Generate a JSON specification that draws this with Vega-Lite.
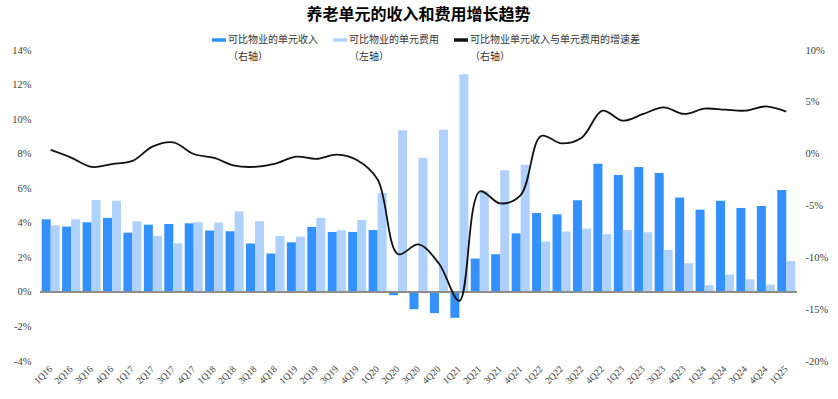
{
  "$schema": "https://vega.github.io/schema/vega-lite/v6.json",
  "width": 757,
  "height": 311,
  "autosize": {"type": "none"},
  "padding": {"left": 40, "top": 50, "right": 41, "bottom": 38},
  "background": "white",
  "config": {"view": {"stroke": null}, "font": "Noto Sans CJK SC", "style": {"guide-label": {"lineHeight": 17}}},
  "title": {
    "text": "养老单元的收入和费用增长趋势",
    "font": "Noto Sans CJK SC",
    "fontSize": 16,
    "fontWeight": "bold",
    "color": "#000000",
    "anchor": "middle",
    "frame": "group",
    "offset": 10
  },
  "data": {
    "values": [
      {"q": "1Q16", "income": 4.20, "expense": 3.85, "diff": 0.36},
      {"q": "2Q16", "income": 3.78, "expense": 4.20, "diff": -0.38},
      {"q": "3Q16", "income": 4.03, "expense": 5.32, "diff": -1.28},
      {"q": "4Q16", "income": 4.28, "expense": 5.28, "diff": -1.0},
      {"q": "1Q17", "income": 3.43, "expense": 4.09, "diff": -0.7},
      {"q": "2Q17", "income": 3.89, "expense": 3.24, "diff": 0.7},
      {"q": "3Q17", "income": 3.93, "expense": 2.81, "diff": 1.09},
      {"q": "4Q17", "income": 3.97, "expense": 4.03, "diff": -0.03},
      {"q": "1Q18", "income": 3.55, "expense": 4.01, "diff": -0.41},
      {"q": "2Q18", "income": 3.51, "expense": 4.66, "diff": -1.16},
      {"q": "3Q18", "income": 2.80, "expense": 4.09, "diff": -1.27},
      {"q": "4Q18", "income": 2.22, "expense": 3.24, "diff": -0.96},
      {"q": "1Q19", "income": 2.87, "expense": 3.20, "diff": -0.29},
      {"q": "2Q19", "income": 3.76, "expense": 4.28, "diff": -0.5},
      {"q": "3Q19", "income": 3.47, "expense": 3.57, "diff": -0.1},
      {"q": "4Q19", "income": 3.47, "expense": 4.16, "diff": -0.64},
      {"q": "1Q20", "income": 3.58, "expense": 5.73, "diff": -2.5},
      {"q": "2Q20", "income": -0.19, "expense": 9.36, "diff": -9.7},
      {"q": "3Q20", "income": -1.0, "expense": 7.77, "diff": -8.75},
      {"q": "4Q20", "income": -1.23, "expense": 9.39, "diff": -10.6},
      {"q": "1Q21", "income": -1.5, "expense": 12.6, "diff": -14.2},
      {"q": "2Q21", "income": 1.93, "expense": 5.82, "diff": -3.65},
      {"q": "3Q21", "income": 2.18, "expense": 7.04, "diff": -4.8},
      {"q": "4Q21", "income": 3.39, "expense": 7.36, "diff": -4.0},
      {"q": "1Q22", "income": 4.57, "expense": 2.91, "diff": 1.7},
      {"q": "2Q22", "income": 4.49, "expense": 3.49, "diff": 0.99},
      {"q": "3Q22", "income": 5.30, "expense": 3.66, "diff": 1.57},
      {"q": "4Q22", "income": 7.42, "expense": 3.34, "diff": 4.15},
      {"q": "1Q23", "income": 6.77, "expense": 3.58, "diff": 3.18},
      {"q": "2Q23", "income": 7.23, "expense": 3.45, "diff": 3.83},
      {"q": "3Q23", "income": 6.88, "expense": 2.43, "diff": 4.47},
      {"q": "4Q23", "income": 5.47, "expense": 1.66, "diff": 3.83},
      {"q": "1Q24", "income": 4.76, "expense": 0.39, "diff": 4.34},
      {"q": "2Q24", "income": 5.28, "expense": 1.0, "diff": 4.24},
      {"q": "3Q24", "income": 4.86, "expense": 0.73, "diff": 4.15},
      {"q": "4Q24", "income": 4.97, "expense": 0.42, "diff": 4.56},
      {"q": "1Q25", "income": 5.90, "expense": 1.79, "diff": 4.05}
    ]
  },
  "layer": [
    {
      "layer": [
        {
          "transform": [{"fold": ["income", "expense"], "as": ["series", "value"]}],
          "mark": {"type": "bar"},
          "encoding": {
            "x": {
              "field": "q",
              "type": "nominal",
              "sort": null,
              "scale": {"paddingInner": 0.118, "paddingOuter": 0.083},
              "axis": {
                "title": null,
                "domain": false,
                "ticks": false,
                "labelAngle": -45,
                "labelAlign": "right",
                "labelBaseline": "middle",
                "labelPadding": 6,
                "labelFont": "Liberation Serif",
                "labelFontSize": 9.5,
                "labelColor": "#404040"
              }
            },
            "xOffset": {
              "field": "series",
              "type": "nominal",
              "sort": ["income", "expense"],
              "scale": {"domain": ["income", "expense"], "paddingInner": 0, "paddingOuter": 0}
            },
            "y": {
              "field": "value",
              "type": "quantitative",
              "scale": {"domain": [-4, 14], "nice": false, "zero": false},
              "axis": {
                "title": null,
                "orient": "left",
                "values": [-4, -2, 0, 2, 4, 6, 8, 10, 12, 14],
                "labelExpr": "datum.value + '%'",
                "labelOverlap": false,
                "labelBound": false,
                "labelFlush": false,
                "grid": false,
                "domain": false,
                "ticks": false,
                "labelPadding": 9,
                "labelFont": "Liberation Serif",
                "labelFontSize": 10.5,
                "labelColor": "#404040"
              }
            },
            "color": {
              "field": "series",
              "type": "nominal",
              "scale": {"domain": ["income", "expense", "diff"], "range": ["#3391FF", "#AED1FF", "#111111"]},
              "legend": {
                "title": null,
                "orient": "none",
                "legendX": 172,
                "legendY": -17,
                "direction": "horizontal",
                "columns": 3,
                "gridAlign": "none",
                "columnPadding": 15,
                "padding": 0,
                "symbolSize": 196,
                "symbolType": "M-1,-0.25H1V0.25H-1Z",
                "symbolStrokeWidth": 0,
                "symbolOpacity": 1,
                "labelFont": "Noto Sans CJK SC",
                "labelFontSize": 10,
                "labelColor": "#333333",
                "labelLimit": 400,
                "labelOffset": 2,
                "labelExpr": "datum.value === 'income' ? ['可比物业的单元收入', '（右轴）'] : datum.value === 'expense' ? ['可比物业的单元费用', '（左轴）'] : ['可比物业单元收入与单元费用的增速差', '（右轴）']"
              }
            }
          }
        },
        {
          "mark": {"type": "rule", "color": "#8c8c8c", "strokeWidth": 1},
          "encoding": {
            "y": {
              "datum": 0,
              "type": "quantitative",
              "axis": {
                "title": null,
                "orient": "left",
                "values": [-4, -2, 0, 2, 4, 6, 8, 10, 12, 14],
                "labelExpr": "datum.value + '%'",
                "labelOverlap": false,
                "labelBound": false,
                "labelFlush": false,
                "grid": false,
                "domain": false,
                "ticks": false,
                "labelPadding": 9,
                "labelFont": "Liberation Serif",
                "labelFontSize": 10.5,
                "labelColor": "#404040"
              }
            }
          }
        }
      ]
    },
    {
      "mark": {"type": "line", "interpolate": "catmull-rom", "strokeWidth": 1.8, "color": "#111111"},
      "encoding": {
        "x": {"field": "q", "type": "nominal", "sort": null},
        "y": {
          "field": "diff",
          "type": "quantitative",
          "scale": {"domain": [-20, 10], "nice": false, "zero": false},
          "axis": {
            "title": null,
            "orient": "right",
            "values": [-20, -15, -10, -5, 0, 5, 10],
            "labelExpr": "datum.value + '%'",
            "labelOverlap": false,
            "labelBound": false,
            "labelFlush": false,
            "grid": false,
            "domain": false,
            "ticks": false,
            "labelPadding": 8,
            "labelFont": "Liberation Serif",
            "labelFontSize": 10.5,
            "labelColor": "#404040"
          }
        }
      }
    }
  ],
  "resolve": {"scale": {"y": "independent"}}
}
